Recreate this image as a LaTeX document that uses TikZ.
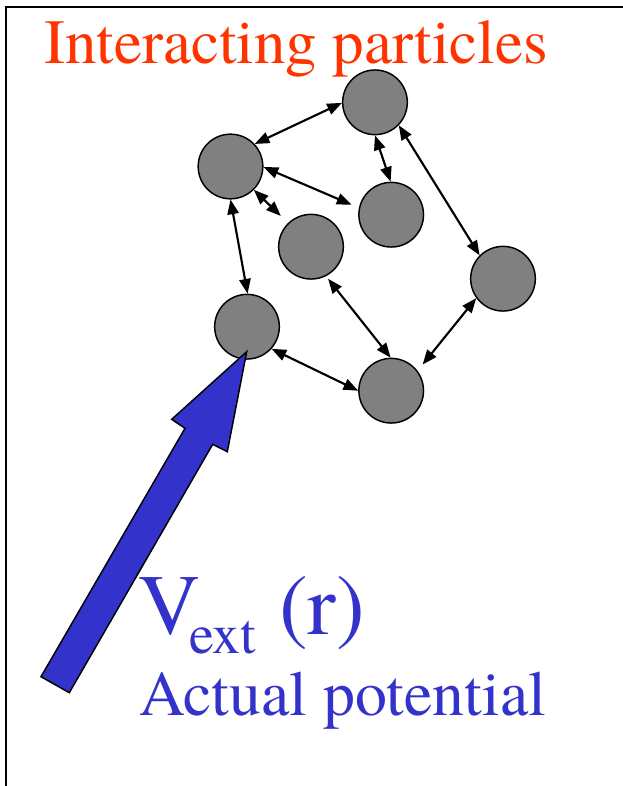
\documentclass[tikz,border=0pt]{standalone}
\usepackage{fontspec}
\setmainfont{texgyretermes}[Extension=.otf,UprightFont=*-regular,BoldFont=*-bold,ItalicFont=*-italic,BoldItalicFont=*-bolditalic]
\usetikzlibrary{arrows.meta}
\definecolor{titlered}{HTML}{FF3300}
\definecolor{potblue}{HTML}{3333CC}
\definecolor{partgray}{HTML}{808080}
\begin{document}
\begin{tikzpicture}[x=0.75pt,y=-0.75pt,
  particle/.style={circle,draw=black,line width=1.1pt,fill=partgray,minimum size=48.5pt,inner sep=0pt},
  link/.style={{Triangle[length=11pt,width=8.5pt]}-{Triangle[length=11pt,width=8.5pt]},line width=1.6pt},
  lbl/.style={anchor=base west,inner sep=0pt}]
\useasboundingbox (0,0) rectangle (623,786);
% frame
\draw[line width=1.5pt] (6.3,790) -- (6.3,7) -- (630,7);
% particles
\node[particle] (top) at (375,102.3) {};
\node[particle] (left) at (230.5,166.5) {};
\node[particle] (midright) at (391.2,214.7) {};
\node[particle] (center) at (311,246.7) {};
\node[particle] (right) at (503,278.7) {};
\node[particle] (botleft) at (247,326.7) {};
\node[particle] (bottom) at (391.2,390.7) {};
% interactions
\draw[link] (left.43) -- (top.181);
\draw[link,shorten >=6pt] (left.-1) -- (midright.168);
\draw[link,shorten >=7.5pt] (left.-45) -- (center.134);
\draw[link] (left.-90) -- (botleft.89);
\draw[link] (top.-90) -- (midright.91);
\draw[link] (top.-44) -- (right.135);
\draw[link,shorten <=2.5pt] (center.-63) -- (bottom.91);
\draw[link,shorten >=6pt] (right.216) -- (bottom.37);
\draw[link] (botleft.-42) -- (bottom.180);
% external potential arrow
\draw[fill=potblue,line width=1.1pt,line join=miter] (246.7,351.7) -- (227.3,451.7) -- (212.7,444.3) -- (69.3,692.7) -- (41,676.7) -- (185,428.3) -- (171.7,419.3) -- cycle;
% texts
\node[lbl,text=titlered,font=\fontsize{47.25}{50}\selectfont] (title) at (44,63) {Interacting particles};
\node[lbl,text=potblue,font=\fontsize{64.5}{66}\selectfont] (V) at (138.6,634) {V\kern-8.25pt\raisebox{-14.25pt}{\fontsize{42}{44}\selectfont ext}};
\node[lbl,text=potblue,font=\fontsize{64.5}{66}\selectfont] (r) at (279,634) {(r)};
\node[lbl,text=potblue,font=\fontsize{47.8}{50}\selectfont] (actual) at (139,715) {Actual potential};
\end{tikzpicture}
\end{document}
